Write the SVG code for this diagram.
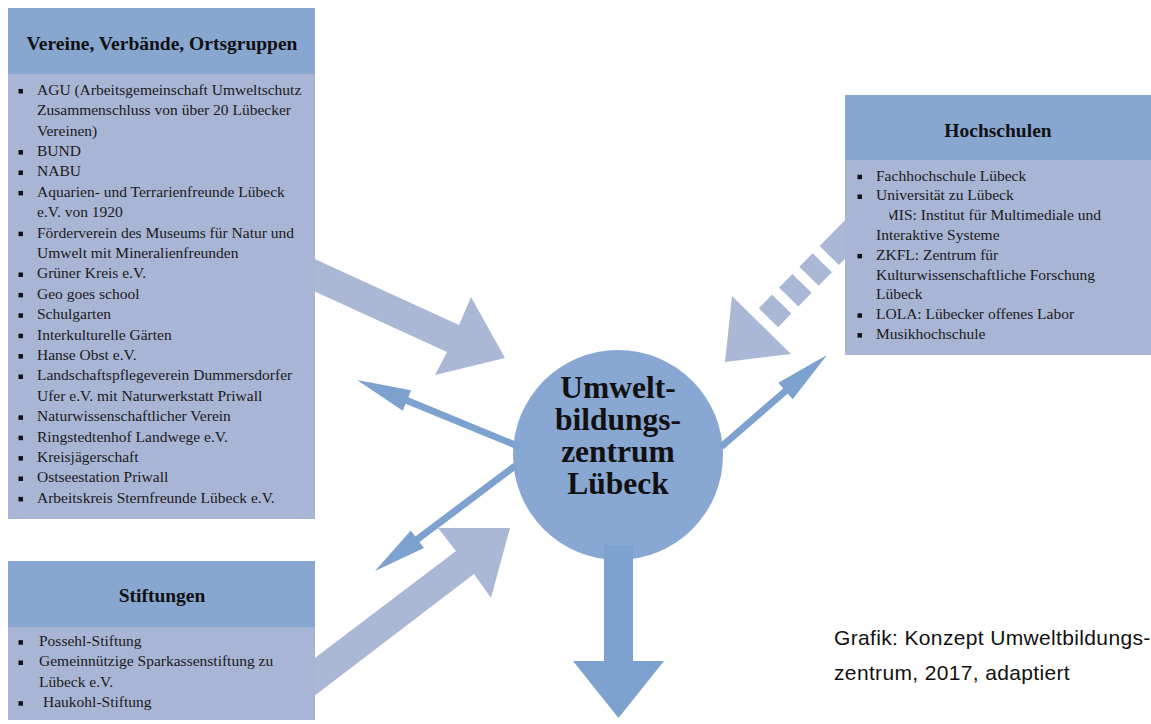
<svg xmlns="http://www.w3.org/2000/svg" width="1151" height="724" viewBox="0 0 1151 724">
<style>
.hdr{fill:#87a6d0}
.body{fill:#a9b5d5}
.light{fill:#aab8d6}
.dark{fill:#7ea2cf}
.ht{font-family:"Liberation Serif",serif;font-weight:bold;font-size:19.5px;fill:#111;text-anchor:middle}
.bt{font-family:"Liberation Serif",serif;font-size:15.5px;fill:#1a1a1a}
.ct{font-family:"Liberation Serif",serif;font-weight:bold;font-size:31.5px;fill:#111;text-anchor:middle}
.cap{font-family:"Liberation Sans",Arial,sans-serif;font-size:21px;letter-spacing:0.35px;fill:#111}
</style>
<defs>
<rect id="b" width="4.5" height="4.5" fill="#111"/>
<clipPath id="mclip"><rect x="889.5" y="200" width="262" height="30"/></clipPath>
</defs>
<rect width="1151" height="724" fill="#fff"/>
<g id="connectors">
<polygon class="light" points="306,255 459,325 471,297 505,358 435,375 447,352 294,282"/>
<polygon class="light" points="291,676 456,551 438,528 510,528 491,598 474,574 309,700"/>
<polygon class="light" points="725,362 791,354 732,296"/>
<line x1="768.4" y1="317.7" x2="870" y2="214" stroke="#aab8d6" stroke-width="27" stroke-dasharray="19 10 19 10 19 10 300"/>
</g>
<g id="node-center">
<circle cx="618" cy="455" r="105" fill="#88a7d2"/>
<text class="ct" x="618" y="398">Umwelt-</text>
<text class="ct" x="618" y="430">bildungs-</text>
<text class="ct" x="618" y="462">zentrum</text>
<text class="ct" x="618" y="494">Lübeck</text>
</g>
<g id="connectors-out">
<polygon class="dark" points="521.3,443.8 408.3,397.3 411.1,390.3 357,380 402.8,410.7 405.6,403.7 518.7,450.2"/>
<polygon class="dark" points="512.9,463.2 415.3,536.4 410.8,530.4 375,571 424,548 419.5,542 517.1,468.8"/>
<polygon class="dark" points="718.7,444.4 783.2,388.4 778.3,382.7 827,355 792.7,399.3 787.8,393.6 723.3,449.6"/>
<polygon class="dark" points="604,545 633,545 633,661 664,661 618.5,718 573,661 604,661"/>
</g>
<g id="node-vereine">
<rect class="body" x="8" y="74" width="307" height="445"/>
<rect class="hdr" x="8" y="8" width="307" height="66"/>
<text class="ht" x="162" y="50">Vereine, Verbände, Ortsgruppen</text>
<use href="#b" x="18.5" y="89"/>
<text class="bt" x="37" y="94.7">AGU (Arbeitsgemeinschaft Umweltschutz</text>
<text class="bt" x="37" y="115.1">Zusammenschluss von über 20 Lübecker</text>
<text class="bt" x="37" y="135.5">Vereinen)</text>
<use href="#b" x="18.5" y="150.1"/>
<text class="bt" x="37" y="155.9">BUND</text>
<use href="#b" x="18.5" y="170.5"/>
<text class="bt" x="37" y="176.3">NABU</text>
<use href="#b" x="18.5" y="190.9"/>
<text class="bt" x="37" y="196.7">Aquarien- und Terrarienfreunde Lübeck</text>
<text class="bt" x="37" y="217.1">e.V. von 1920</text>
<use href="#b" x="18.5" y="231.7"/>
<text class="bt" x="37" y="237.5">Förderverein des Museums für Natur und</text>
<text class="bt" x="37" y="257.9">Umwelt mit Mineralienfreunden</text>
<use href="#b" x="18.5" y="272.5"/>
<text class="bt" x="37" y="278.3">Grüner Kreis e.V.</text>
<use href="#b" x="18.5" y="292.9"/>
<text class="bt" x="37" y="298.7">Geo goes school</text>
<use href="#b" x="18.5" y="313.3"/>
<text class="bt" x="37" y="319.1">Schulgarten</text>
<use href="#b" x="18.5" y="333.7"/>
<text class="bt" x="37" y="339.5">Interkulturelle Gärten</text>
<use href="#b" x="18.5" y="354.1"/>
<text class="bt" x="37" y="359.9">Hanse Obst e.V.</text>
<use href="#b" x="18.5" y="374.5"/>
<text class="bt" x="37" y="380.3">Landschaftspflegeverein Dummersdorfer</text>
<text class="bt" x="37" y="400.7">Ufer e.V. mit Naturwerkstatt Priwall</text>
<use href="#b" x="18.5" y="415.3"/>
<text class="bt" x="37" y="421.1">Naturwissenschaftlicher Verein</text>
<use href="#b" x="18.5" y="435.7"/>
<text class="bt" x="37" y="441.5">Ringstedtenhof Landwege e.V.</text>
<use href="#b" x="18.5" y="456.1"/>
<text class="bt" x="37" y="461.9">Kreisjägerschaft</text>
<use href="#b" x="18.5" y="476.5"/>
<text class="bt" x="37" y="482.3">Ostseestation Priwall</text>
<use href="#b" x="18.5" y="496.9"/>
<text class="bt" x="37" y="502.7">Arbeitskreis Sternfreunde Lübeck e.V.</text>
</g>
<g id="node-stiftungen">
<rect class="body" x="8" y="627" width="307" height="93"/>
<rect class="hdr" x="8" y="561" width="307" height="66"/>
<text class="ht" x="162" y="601.5">Stiftungen</text>
<use href="#b" x="18.5" y="640.2"/>
<text class="bt" x="39" y="646">Possehl-Stiftung</text>
<use href="#b" x="18.5" y="660.5"/>
<text class="bt" x="39" y="666.3">Gemeinnützige Sparkassenstiftung zu</text>
<text class="bt" x="39" y="686.6">Lübeck e.V.</text>
<use href="#b" x="18.5" y="701.2"/>
<text class="bt" x="43" y="707">Haukohl-Stiftung</text>
</g>
<g id="node-hochschulen">
<rect class="body" x="845" y="160" width="306" height="195"/>
<rect class="hdr" x="845" y="95" width="306" height="65"/>
<text class="ht" x="998" y="136.5">Hochschulen</text>
<use href="#b" x="857.5" y="174.7"/>
<text class="bt" x="876" y="180.5">Fachhochschule Lübeck</text>
<use href="#b" x="857.5" y="194.5"/>
<text class="bt" x="876" y="200.3">Universität zu Lübeck</text>
<text class="bt" x="885" y="220.1" clip-path="url(#mclip)">MIS: Institut für Multimediale und</text>
<text class="bt" x="876" y="239.9">Interaktive Systeme</text>
<use href="#b" x="857.5" y="253.9"/>
<text class="bt" x="876" y="259.7">ZKFL: Zentrum für</text>
<text class="bt" x="876" y="279.5">Kulturwissenschaftliche Forschung</text>
<text class="bt" x="876" y="299.3">Lübeck</text>
<use href="#b" x="857.5" y="313.3"/>
<text class="bt" x="876" y="319.1">LOLA: Lübecker offenes Labor</text>
<use href="#b" x="857.5" y="333.1"/>
<text class="bt" x="876" y="338.9">Musikhochschule</text>
</g>
<g id="caption">
<text class="cap" x="834" y="645">Grafik: Konzept Umweltbildungs-</text>
<text class="cap" x="834" y="680">zentrum, 2017, adaptiert</text>
</g>
</svg>
